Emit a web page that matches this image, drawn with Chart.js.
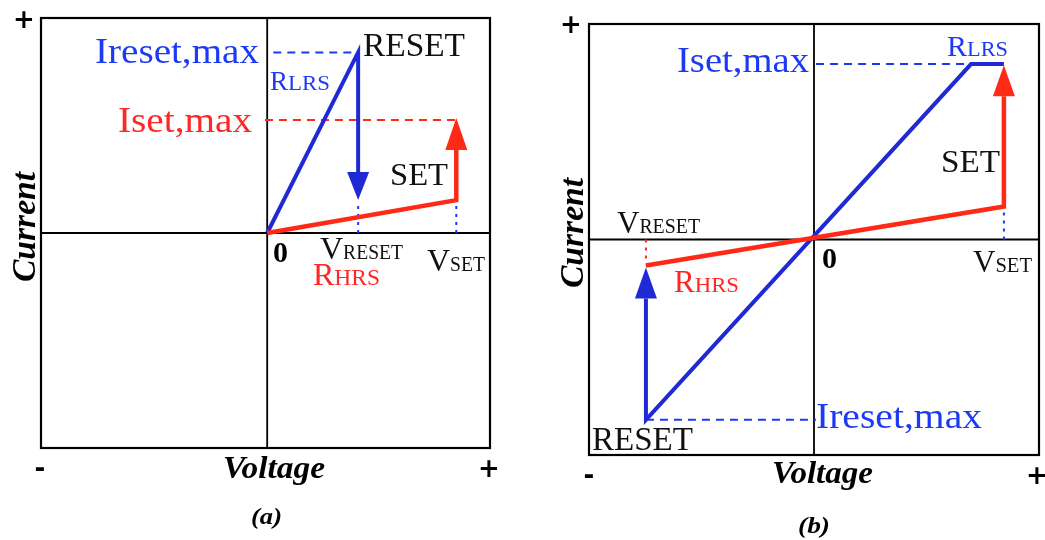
<!DOCTYPE html>
<html>
<head>
<meta charset="utf-8">
<script src="https://cdn.jsdelivr.net/npm/chart.js@4.4.0/dist/chart.umd.min.js"></script>
<style>
  body { margin: 0; background: #fff; }
  #page { position: relative; width: 1045px; height: 540px; overflow: hidden; }
  canvas { position: absolute; left: 0; top: 0; }
</style>
</head>
<body>
<div id="page">
  <canvas id="chartA" width="1045" height="540"></canvas>
  <canvas id="chartB" width="1045" height="540"></canvas>
</div>
<script>
// ---- panel (a): unipolar switching ----
var aLrsX = [0, 0.402, 0.402];       // up the LRS line, then the RESET drop
var aLrsY = [0, 0.84, 0.284];
var aResetTip = 0.153;
var aHrsX = [0, 0.836, 0.836];       // HRS line, then the SET jump
var aHrsY = [0, 0.153, 0.386];
var aSetTip = 0.535;
var aIresetX = [0.027, 0.402];  var aIresetY = [0.84, 0.84];
var aIsetX = [-0.01, 0.836];    var aIsetY = [0.526, 0.526];
var aVresetX = [0.402, 0.402];  var aVresetY = [0, 0.13];
var aVsetX = [0.836, 0.836];    var aVsetY = [0, 0.13];

// ---- panel (b): bipolar switching ----
var bLrsX = [-0.747, -0.747, 0.698, 0.844];
var bLrsY = [-0.274, -0.837, 0.814, 0.814];
var bResetTip = -0.130;
var bHrsX = [-0.747, 0.844, 0.844];
var bHrsY = [-0.121, 0.153, 0.665];
var bSetTip = 0.809;
var bIsetX = [0.009, 0.698];     var bIsetY = [0.814, 0.814];
var bIresetX = [-0.747, 0.009];  var bIresetY = [-0.837, -0.837];
var bVresetX = [-0.747, -0.747]; var bVresetY = [0, -0.11];
var bVsetX = [0.844, 0.844];     var bVsetY = [0, 0.14];

var BLUE = "rgb(32,42,212)";
var BLUE_TXT = "rgb(28,58,245)";
var RED = "rgb(255,42,22)";
var RED_TXT = "rgb(255,38,38)";
var INK = "#111";
var SERIF = '"Liberation Serif", "Times New Roman", serif';

function pts(xs, ys) {
  return xs.map(function (x, i) { return { x: x, y: ys[i] }; });
}

function line(xs, ys, color, width, dash, order) {
  return {
    data: pts(xs, ys),
    showLine: true,
    borderColor: color,
    borderWidth: width,
    borderDash: dash || [],
    pointRadius: 0,
    borderJoinStyle: "miter",
    borderCapStyle: "butt",
    order: order
  };
}

// draw text from its left edge on the baseline, stretched to a given width
function txt(ctx, s, x, y, size, color, w, style) {
  ctx.save();
  ctx.font = (style || "") + " " + size + "px " + SERIF;
  ctx.fillStyle = color;
  ctx.textBaseline = "alphabetic";
  ctx.textAlign = "left";
  var m = ctx.measureText(s).width;
  var k = w ? w / m : 1;
  ctx.translate(x, y);
  ctx.scale(k, 1);
  ctx.fillText(s, 0, 0);
  ctx.restore();
  return m * k;
}

// small caps style label: big first letter + smaller rest
function caps(ctx, big, small, x, y, bigSize, smallSize, color, xEnd) {
  var w = txt(ctx, big, x, y, bigSize, color);
  txt(ctx, small, x + w, y, smallSize, color, xEnd - x - w);
}

function sign(ctx, s, x, y) {
  ctx.save();
  ctx.font = "bold 26px 'DejaVu Sans', sans-serif";
  ctx.fillStyle = "#000";
  ctx.textAlign = "center";
  ctx.textBaseline = "middle";
  ctx.fillText(s, x, y);
  ctx.restore();
}

function vertical(ctx, s, x, cy, size, w) {
  ctx.save();
  ctx.translate(x, cy);
  ctx.rotate(-Math.PI / 2);
  ctx.font = "bold italic " + size + "px " + SERIF;
  var m = ctx.measureText(s).width;
  ctx.scale(w / m, 1);
  ctx.fillStyle = "#000";
  ctx.textAlign = "center";
  ctx.textBaseline = "alphabetic";
  ctx.fillText(s, 0, 0);
  ctx.restore();
}

function arrowHead(chart, x, yBase, yTip, color) {
  var ctx = chart.ctx;
  var px = chart.scales.x.getPixelForValue(x);
  var pb = chart.scales.y.getPixelForValue(yBase);
  var pt = chart.scales.y.getPixelForValue(yTip);
  ctx.save();
  ctx.fillStyle = color;
  ctx.beginPath();
  ctx.moveTo(px, pt);
  ctx.lineTo(px - 11, pb);
  ctx.lineTo(px + 11, pb);
  ctx.closePath();
  ctx.fill();
  ctx.restore();
}

var framePlugin = {
  id: "frame",
  beforeDatasetsDraw: function (chart) {
    var ctx = chart.ctx, a = chart.chartArea;
    var x0 = chart.scales.x.getPixelForValue(0);
    var y0 = chart.scales.y.getPixelForValue(0);
    ctx.save();
    ctx.strokeStyle = "#000";
    ctx.lineWidth = 1.8;
    ctx.beginPath();
    ctx.moveTo(x0, a.top); ctx.lineTo(x0, a.bottom);
    ctx.moveTo(a.left, y0); ctx.lineTo(a.right, y0);
    ctx.stroke();
    ctx.lineWidth = 2.2;
    ctx.strokeRect(a.left, a.top, a.right - a.left, a.bottom - a.top);
    ctx.restore();
  },
  afterDatasetsDraw: function (chart, args, opts) {
    opts.draw(chart, chart.ctx);
  }
};

function makeChart(id, pad, datasets, draw, xr) {
  return new Chart(document.getElementById(id), {
    type: "scatter",
    data: { datasets: datasets },
    options: {
      responsive: false,
      animation: false,
      devicePixelRatio: 1,
      layout: { padding: pad },
      scales: {
        x: { type: "linear", min: xr[0], max: xr[1], display: false },
        y: { type: "linear", min: -1, max: 1, display: false }
      },
      plugins: {
        legend: { display: false },
        tooltip: { enabled: false },
        frame: { draw: draw }
      }
    },
    plugins: [framePlugin]
  });
}

makeChart("chartA", { left: 41, top: 18, right: 555, bottom: 92 }, [
  line(aHrsX, aHrsY, RED, 4.5, null, 1),
  line(aLrsX, aLrsY, BLUE, 4, null, 2),
  line(aIresetX, aIresetY, BLUE_TXT, 2, [8, 6], 3),
  line(aIsetX, aIsetY, RED, 2, [8, 6], 3),
  line(aVresetX, aVresetY, BLUE_TXT, 2, [3, 5], 3),
  line(aVsetX, aVsetY, BLUE_TXT, 2, [3, 5], 3)
], function (chart, ctx) {
  arrowHead(chart, aLrsX[2], aLrsY[2], aResetTip, BLUE);
  arrowHead(chart, aHrsX[2], aHrsY[2], aSetTip, RED);
  txt(ctx, "Ireset,max", 95, 63, 36, BLUE_TXT, 164);
  caps(ctx, "R", "LRS", 270, 90, 27, 20, BLUE_TXT, 330);
  txt(ctx, "Iset,max", 118, 132, 36, RED_TXT, 134);
  txt(ctx, "RESET", 363, 56, 33, INK, 102);
  txt(ctx, "SET", 390, 185, 32, INK, 58);
  txt(ctx, "0", 273, 262, 30, "#000", null, "bold");
  caps(ctx, "V", "RESET", 320, 259, 32, 20, INK, 403);
  caps(ctx, "R", "HRS", 313, 285, 32, 23, RED_TXT, 380);
  caps(ctx, "V", "SET", 427, 271, 32, 21, INK, 485);
  sign(ctx, "+", 24, 21);
  sign(ctx, "-", 40, 470);
  sign(ctx, "+", 489, 470);
  txt(ctx, "Voltage", 223, 478, 32, "#000", 102, "bold italic");
  vertical(ctx, "Current", 35, 227, 33, 110);
  txt(ctx, "(a)", 251, 524, 24, "#000", 31, "bold italic");
}, [-1, 0.985]);

makeChart("chartB", { left: 589, top: 24, right: 6, bottom: 85 }, [
  line(bHrsX, bHrsY, RED, 4.5, null, 1),
  line(bLrsX, bLrsY, BLUE, 4, null, 2),
  line(bIsetX, bIsetY, BLUE_TXT, 2, [8, 6], 3),
  line(bIresetX, bIresetY, BLUE_TXT, 2, [8, 6], 3),
  line(bVresetX, bVresetY, RED, 2, [3, 5], 3),
  line(bVsetX, bVsetY, BLUE_TXT, 2, [3, 5], 3)
], function (chart, ctx) {
  arrowHead(chart, bLrsX[0], bLrsY[0], bResetTip, BLUE);
  arrowHead(chart, bHrsX[2], bHrsY[2], bSetTip, RED);
  txt(ctx, "Iset,max", 677, 72, 36, BLUE_TXT, 132);
  caps(ctx, "R", "LRS", 947, 56, 30, 21, BLUE_TXT, 1008);
  txt(ctx, "SET", 941, 172, 31, INK, 59);
  caps(ctx, "V", "RESET", 617, 233, 31, 21, INK, 700);
  caps(ctx, "R", "HRS", 674, 292, 31, 22, RED_TXT, 739);
  txt(ctx, "0", 822, 268, 30, "#000", null, "bold");
  caps(ctx, "V", "SET", 973, 272, 31, 21, INK, 1032);
  txt(ctx, "RESET", 592, 450, 33, INK, 101);
  txt(ctx, "Ireset,max", 816, 428, 36, BLUE_TXT, 166);
  sign(ctx, "+", 571, 26);
  sign(ctx, "-", 589, 477);
  sign(ctx, "+", 1037, 477);
  txt(ctx, "Voltage", 772, 483, 32, "#000", 101, "bold italic");
  vertical(ctx, "Current", 583, 233, 33, 110);
  txt(ctx, "(b)", 798, 533, 24, "#000", 32, "bold italic");
}, [-1, 1]);
</script>
</body>
</html>
